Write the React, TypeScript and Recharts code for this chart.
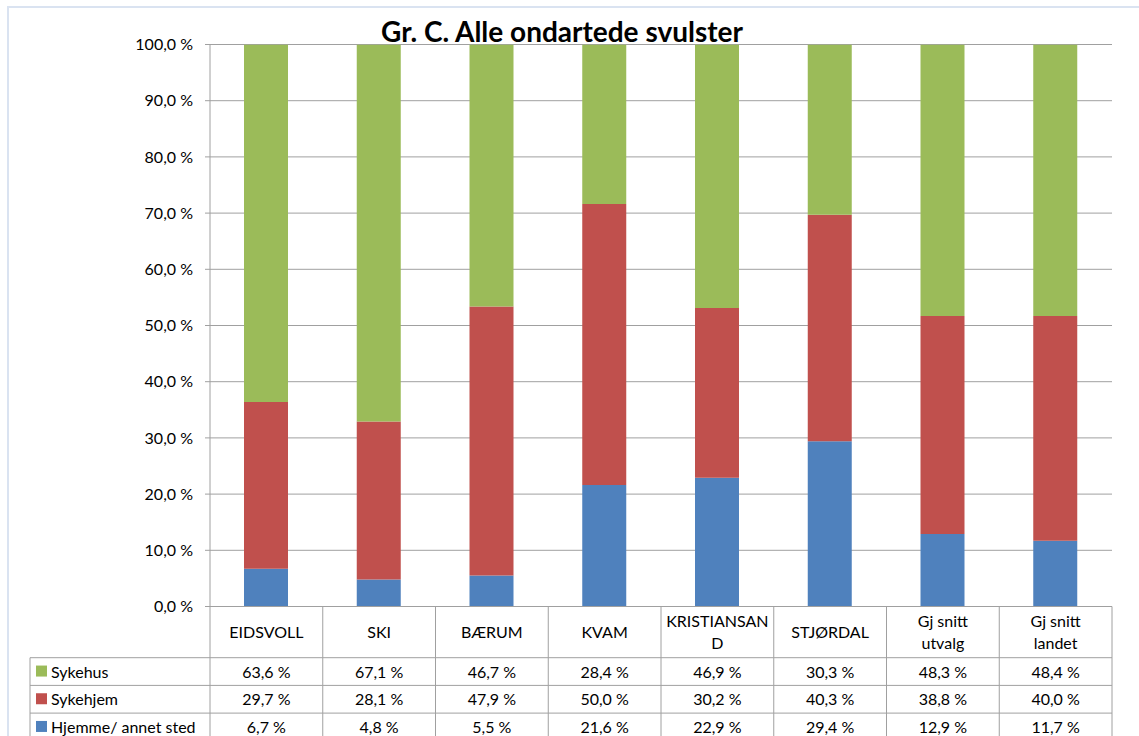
import { BarChart, Bar, XAxis, YAxis, CartesianGrid } from 'recharts';

const categories = ['EIDSVOLL', 'SKI', 'BÆRUM', 'KVAM', 'KRISTIANSAND', 'STJØRDAL', 'Gj snitt utvalg', 'Gj snitt landet'];
// header text as it wraps in the data table
const headerLabels = [['EIDSVOLL'], ['SKI'], ['BÆRUM'], ['KVAM'], ['KRISTIANSAN', 'D'], ['STJØRDAL'], ['Gj snitt', 'utvalg'], ['Gj snitt', 'landet']];

const sykehus = [63.6, 67.1, 46.7, 28.4, 46.9, 30.3, 48.3, 48.4];
const sykehjem = [29.7, 28.1, 47.9, 50.0, 30.2, 40.3, 38.8, 40.0];
const hjemme = [6.7, 4.8, 5.5, 21.6, 22.9, 29.4, 12.9, 11.7];

const yTicks = [0, 10, 20, 30, 40, 50, 60, 70, 80, 90, 100];

const series = [
  { key: 'sykehus', name: 'Sykehus', color: '#9BBB59' },
  { key: 'sykehjem', name: 'Sykehjem', color: '#C0504D' },
  { key: 'hjemme', name: 'Hjemme/ annet sted', color: '#4F81BD' },
];

const data = categories.map((name, i) => ({
  name,
  sykehus: sykehus[i],
  sykehjem: sykehjem[i],
  hjemme: hjemme[i],
}));

const W = 1139;
const H = 736;
const MARGIN = { top: 44.5, right: 27, left: 150, bottom: 0 };
const Y_AXIS_W = 60;
const X_AXIS_H = 129.5;
const PLOT_W = W - MARGIN.left - MARGIN.right - Y_AXIS_W;
const FONT = 'Lato, "Open Sans", sans-serif';
const LINE = '#a0a0a0';
const TABLE_LEFT = 30;
const HEADER_H = 51.2;
const ROW_H = 27.7;

const fmt = (v: number) => `${v.toFixed(1).replace('.', ',')} %`;

function TableColumn(props: any) {
  const { x, y, payload, index } = props;
  const bw = PLOT_W / categories.length;
  const left = x - bw / 2;
  const right = x + bw / 2;
  const bottom = y + 140;
  const rowTops = [0, 1, 2].map((r) => y + HEADER_H + r * ROW_H);
  const lines = headerLabels[index] || [payload.value];
  const values = [sykehus, sykehjem, hjemme];

  return (
    <g>
      <line x1={right} y1={y} x2={right} y2={bottom} stroke={LINE} />
      <line x1={left} y1={y} x2={right} y2={y} stroke={LINE} />
      {rowTops.map((t, r) => (
        <line key={r} x1={left} y1={t} x2={right} y2={t} stroke={LINE} />
      ))}
      {lines.map((l: string, k: number) => (
        <text
          key={k}
          x={x}
          y={y + HEADER_H / 2 + 6 + (k - (lines.length - 1) / 2) * 22}
          textAnchor="middle"
          fontFamily={FONT}
          fontSize={16}
          fill="#000"
        >
          {l}
        </text>
      ))}
      {values.map((arr, r) => (
        <text
          key={r}
          x={x}
          y={rowTops[r] + ROW_H / 2 + 6}
          textAnchor="middle"
          fontFamily={FONT}
          fontSize={16}
          fill="#000"
        >
          {fmt(arr[index])}
        </text>
      ))}
      {index === 0 && (
        <g>
          <line x1={left} y1={y} x2={left} y2={bottom} stroke={LINE} />
          <line x1={TABLE_LEFT} y1={rowTops[0]} x2={TABLE_LEFT} y2={bottom} stroke={LINE} />
          {rowTops.map((t, r) => (
            <line key={r} x1={TABLE_LEFT} y1={t} x2={left} y2={t} stroke={LINE} />
          ))}
          {series.map((s, r) => (
            <g key={s.key}>
              <rect x={TABLE_LEFT + 6} y={rowTops[r] + ROW_H / 2 - 6} width={11} height={11} fill={s.color} />
              <text
                x={TABLE_LEFT + 21}
                y={rowTops[r] + ROW_H / 2 + 6}
                fontFamily={FONT}
                fontSize={16}
                fill="#000"
              >
                {s.name}
              </text>
            </g>
          ))}
        </g>
      )}
    </g>
  );
}

export default function App() {
  return (
    <div style={{ position: 'absolute', left: 0, top: 0, width: W, height: H, overflow: 'hidden', background: '#fff' }}>
      <div
        style={{
          position: 'absolute',
          left: 7,
          top: 6,
          width: 1300,
          height: 900,
          border: '2px solid #dae3f1',
        }}
      />
      <div style={{ position: 'absolute', left: 0, top: 0 }}>
        <BarChart width={W} height={H} data={data} margin={MARGIN} barSize={44}>
          <CartesianGrid vertical={false} stroke={LINE} />
          <XAxis
            dataKey="name"
            height={X_AXIS_H}
            axisLine={false}
            tickLine={false}
            tickSize={0}
            tickMargin={0}
            interval={0}
            tick={<TableColumn />}
          />
          <YAxis
            width={Y_AXIS_W}
            domain={[0, 100]}
            ticks={yTicks}
            allowDataOverflow
            interval={0}
            tickFormatter={fmt}
            tickSize={5}
            tickMargin={12}
            axisLine={{ stroke: LINE }}
            tickLine={{ stroke: LINE }}
            tick={{ fill: '#000', fontFamily: FONT, fontSize: 16 }}
          />
          <Bar dataKey="hjemme" name="Hjemme/ annet sted" stackId="a" fill="#4F81BD" isAnimationActive={false} />
          <Bar dataKey="sykehjem" name="Sykehjem" stackId="a" fill="#C0504D" isAnimationActive={false} />
          <Bar dataKey="sykehus" name="Sykehus" stackId="a" fill="#9BBB59" isAnimationActive={false} />
        </BarChart>
      </div>
      <svg width={W} height={H} style={{ position: 'absolute', left: 0, top: 0, pointerEvents: 'none' }}>
        <text x={562} y={42} textAnchor="middle" fontFamily={FONT} fontWeight="bold" fontSize={28} fill="#000">
          Gr. C. Alle ondartede svulster
        </text>
      </svg>
    </div>
  );
}
